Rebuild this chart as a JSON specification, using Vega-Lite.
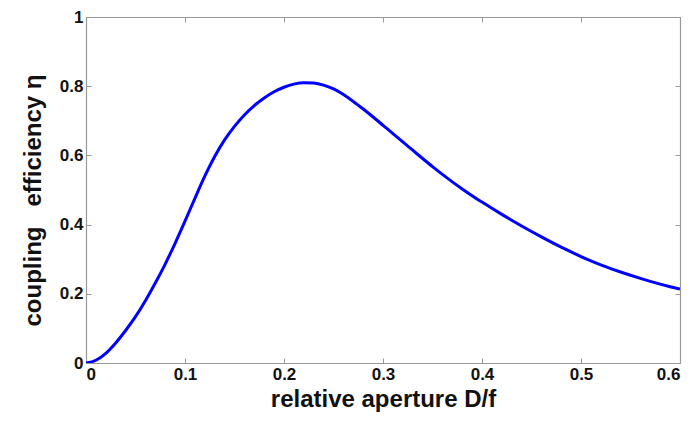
{
  "$schema": "https://vega.github.io/schema/vega-lite/v6.json",
  "width": 594,
  "height": 346,
  "autosize": {"type": "none"},
  "padding": {"left": 86, "top": 17, "right": 14, "bottom": 60},
  "background": "white",
  "config": {
    "view": {"stroke": null},
    "font": "Liberation Sans",
    "axis": {
      "domainColor": "#999999",
      "domainWidth": 1.2,
      "tickColor": "#999999",
      "tickSize": -5,
      "grid": false,
      "labelFont": "Liberation Sans",
      "labelFontWeight": "bold",
      "labelFontSize": 17,
      "labelColor": "#111111",
      "titleFont": "Liberation Sans",
      "titleFontWeight": "bold",
      "titleFontSize": 24,
      "titleColor": "#111111"
    }
  },
  "data": {
    "values": [
      {"x": 0, "y": 0}, {"x": 0.01, "y": 0.008}, {"x": 0.02, "y": 0.028}, {"x": 0.03, "y": 0.058},
      {"x": 0.04, "y": 0.094}, {"x": 0.05, "y": 0.134}, {"x": 0.06, "y": 0.180}, {"x": 0.07, "y": 0.231},
      {"x": 0.08, "y": 0.286}, {"x": 0.09, "y": 0.346}, {"x": 0.10, "y": 0.410}, {"x": 0.11, "y": 0.476},
      {"x": 0.12, "y": 0.540}, {"x": 0.13, "y": 0.597}, {"x": 0.14, "y": 0.645}, {"x": 0.15, "y": 0.684},
      {"x": 0.16, "y": 0.717}, {"x": 0.17, "y": 0.744}, {"x": 0.18, "y": 0.766}, {"x": 0.19, "y": 0.784},
      {"x": 0.20, "y": 0.797}, {"x": 0.21, "y": 0.806}, {"x": 0.22, "y": 0.810}, {"x": 0.23, "y": 0.809},
      {"x": 0.24, "y": 0.803}, {"x": 0.25, "y": 0.792}, {"x": 0.26, "y": 0.776}, {"x": 0.27, "y": 0.756},
      {"x": 0.28, "y": 0.734}, {"x": 0.29, "y": 0.711}, {"x": 0.30, "y": 0.687}, {"x": 0.31, "y": 0.663},
      {"x": 0.32, "y": 0.639}, {"x": 0.33, "y": 0.615}, {"x": 0.34, "y": 0.591}, {"x": 0.35, "y": 0.5675},
      {"x": 0.36, "y": 0.545}, {"x": 0.37, "y": 0.5235}, {"x": 0.38, "y": 0.503}, {"x": 0.39, "y": 0.4835},
      {"x": 0.40, "y": 0.465}, {"x": 0.41, "y": 0.447}, {"x": 0.42, "y": 0.4295}, {"x": 0.43, "y": 0.4125},
      {"x": 0.44, "y": 0.396}, {"x": 0.45, "y": 0.380}, {"x": 0.46, "y": 0.3645}, {"x": 0.47, "y": 0.3495},
      {"x": 0.48, "y": 0.335}, {"x": 0.49, "y": 0.321}, {"x": 0.50, "y": 0.3075}, {"x": 0.51, "y": 0.295},
      {"x": 0.52, "y": 0.2835}, {"x": 0.53, "y": 0.273}, {"x": 0.54, "y": 0.263}, {"x": 0.55, "y": 0.2535},
      {"x": 0.56, "y": 0.2445}, {"x": 0.57, "y": 0.236}, {"x": 0.58, "y": 0.228}, {"x": 0.59, "y": 0.2205},
      {"x": 0.60, "y": 0.2135}
    ]
  },
  "layer": [
    {
      "mark": {"type": "line", "color": "#0000ff", "strokeWidth": 3, "interpolate": "monotone", "clip": true},
      "encoding": {
        "x": {
          "field": "x", "type": "quantitative",
          "scale": {"domain": [0, 0.6], "nice": false, "zero": false},
          "axis": {"values": [0, 0.1, 0.2, 0.3, 0.4, 0.5, 0.6], "format": "~g", "title": "relative aperture D/f", "labelPadding": 8, "titlePadding": 5}
        },
        "y": {
          "field": "y", "type": "quantitative",
          "scale": {"domain": [0, 1], "nice": false},
          "axis": {"values": [0, 0.2, 0.4, 0.6, 0.8, 1], "format": "~g", "title": "coupling\u00a0\u00a0\u00a0efficiency η", "labelPadding": 8, "titlePadding": 14, "titleY": 183}
        }
      }
    },
    {
      "mark": {"type": "line", "opacity": 0},
      "encoding": {
        "x": {
          "field": "x", "type": "quantitative",
          "axis": {"orient": "top", "values": [0, 0.1, 0.2, 0.3, 0.4, 0.5, 0.6], "labels": false, "title": null}
        },
        "y": {
          "field": "y", "type": "quantitative",
          "axis": {"orient": "right", "values": [0, 0.2, 0.4, 0.6, 0.8, 1], "labels": false, "title": null}
        }
      }
    }
  ],
  "resolve": {"axis": {"x": "independent", "y": "independent"}}
}
